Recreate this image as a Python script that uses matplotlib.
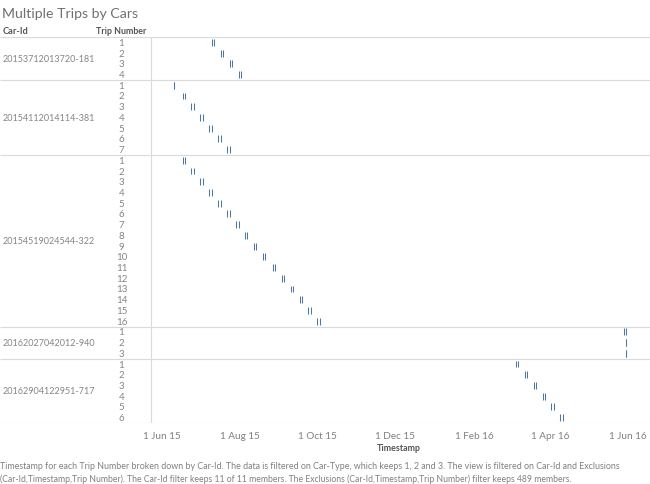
import matplotlib
matplotlib.use('Agg')
import matplotlib.pyplot as plt
import matplotlib.dates as mdates
import pandas as pd

# ---------------- data ----------------
car_ids = ["20153712013720-181", "20154112014114-381", "20154519024544-322",
           "20162027042012-940", "20162904122951-717"]

car1_start = ["2015-07-10", "2015-07-17", "2015-07-24", "2015-07-31"]
car1_end   = ["2015-07-12", "2015-07-19", "2015-07-26", "2015-08-02"]

car2_start = ["2015-06-10", "2015-06-17", "2015-06-24", "2015-07-01", "2015-07-08",
              "2015-07-15", "2015-07-22"]
car2_end   = ["2015-06-10", "2015-06-19", "2015-06-26", "2015-07-03", "2015-07-10",
              "2015-07-17", "2015-07-24"]

car3_start = ["2015-06-17", "2015-06-24", "2015-07-01", "2015-07-08", "2015-07-15",
              "2015-07-22", "2015-07-29", "2015-08-05", "2015-08-12", "2015-08-19",
              "2015-08-27", "2015-09-03", "2015-09-10", "2015-09-17", "2015-09-24",
              "2015-10-01"]
car3_end   = ["2015-06-19", "2015-06-26", "2015-07-03", "2015-07-10", "2015-07-17",
              "2015-07-24", "2015-07-31", "2015-08-07", "2015-08-14", "2015-08-21",
              "2015-08-29", "2015-09-05", "2015-09-12", "2015-09-19", "2015-09-26",
              "2015-10-03"]

car4_start = ["2016-05-29", "2016-05-31", "2016-05-31"]
car4_end   = ["2016-05-31", "2016-05-31", "2016-05-31"]

car5_start = ["2016-03-05", "2016-03-12", "2016-03-19", "2016-03-26", "2016-04-02",
              "2016-04-09"]
car5_end   = ["2016-03-07", "2016-03-14", "2016-03-21", "2016-03-28", "2016-04-04",
              "2016-04-11"]

starts = [car1_start, car2_start, car3_start, car4_start, car5_start]
ends = [car1_end, car2_end, car3_end, car4_end, car5_end]

tick_dates = ["2015-06-01", "2015-08-01", "2015-10-01", "2015-12-01",
              "2016-02-01", "2016-04-01", "2016-06-01"]
tick_labels = ["1 Jun 15", "1 Aug 15", "1 Oct 15", "1 Dec 15", "1 Feb 16",
               "1 Apr 16", "1 Jun 16"]

title = "Multiple Trips by Cars"
caption1 = ("Timestamp for each Trip Number broken down by Car-Id. The data is filtered on "
            "Car-Type, which keeps 1, 2 and 3. The view is filtered on Car-Id and Exclusions")
caption2 = ("(Car-Id,Timestamp,Trip Number). The Car-Id filter keeps 11 of 11 members. "
            "The Exclusions (Car-Id,Timestamp,Trip Number) filter keeps 489 members.")

# ---------------- layout ----------------
plt.rcParams['font.family'] = ['Lato', 'DejaVu Sans']
W, H = 650, 485
fig = plt.figure(figsize=(W / 100, H / 100), dpi=100)
fig.patch.set_facecolor('white')

def fx(px):
    return px / W

def fy(py):
    return 1 - py / H

top, bottom, left = 38, 424, 151
n_rows = sum(len(s) for s in starts)

ax_bg = fig.add_axes([0, fy(bottom), 1, (bottom - top) / H])
ax_bg.set_xlim(0, W)
ax_bg.set_ylim(n_rows, 0)
ax_bg.axis('off')

ax = fig.add_axes([fx(left), fy(bottom), (W - left) / W, (bottom - top) / H])
ax.patch.set_alpha(0)
ax.set_ylim(n_rows, 0)
x0 = pd.Timestamp("2015-06-01")
ax.set_xlim(mdates.date2num(x0 - pd.Timedelta(days=8.8)),
            mdates.date2num(x0 + pd.Timedelta(days=383.5)))
for s in ax.spines.values():
    s.set_visible(False)
ax.set_yticks([])
ax.set_xticks(mdates.date2num(pd.to_datetime(tick_dates)))
ax.set_xticklabels(tick_labels)
ax.tick_params(axis='x', length=0, pad=5.5, labelsize=7.2, labelcolor='#808080')

line_c = '#dadada'
text_c = '#858585'
mark_c = '#50789f'

# separators
bounds = [0]
for s in starts:
    bounds.append(bounds[-1] + len(s))
for b in bounds:
    ax_bg.plot([0, W], [b, b], color=line_c, lw=0.8, solid_capstyle='butt')
ax_bg.plot([left, left], [0, n_rows], color=line_c, lw=0.8)

# labels + marks
row = 0
for cid, st, en in zip(car_ids, starts, ends):
    n = len(st)
    ax_bg.text(3, row + n / 2, cid, ha='left', va='center',
               fontsize=6.5, color=text_c)
    for i in range(n):
        y = row + i + 0.5
        ax_bg.text(121.5, y, str(i + 1), ha='center', va='center',
                   fontsize=7.0, color=text_c)
        xs = mdates.date2num(pd.to_datetime([st[i], en[i]]))
        ax.vlines(xs, y - 0.32, y + 0.32, color=mark_c, lw=0.75)
    row += n

# header
h1 = fig.text(fx(3), fy(31), "Car-Id", ha='left', va='center', fontsize=7.0,
              fontweight='bold', color='#555555')
h2 = fig.text(fx(121.5), fy(31), "Trip Number", ha='center', va='center', fontsize=7.0,
              fontweight='bold', color='#555555')

t = fig.text(fx(2), fy(14), title, ha='left', va='center', fontsize=12.5, color='#707070')
xl = fig.text(fx(399), fy(449), "Timestamp", ha='center', va='center', fontsize=7.0,
              fontweight='bold', color='#555555')
c1 = fig.text(fx(0), fy(467), caption1, ha='left', va='center', fontsize=6.5,
              color='#808080')
c2 = fig.text(fx(0), fy(479), caption2, ha='left', va='center', fontsize=6.5,
              color='#808080')

# fit text widths to the reference
fig.canvas.draw()
r = fig.canvas.get_renderer()
for obj, target in [(t, 137), (c1, 618), (c2, 568), (h1, 26), (h2, 51), (xl, 44)]:
    w = obj.get_window_extent(r).width
    obj.set_fontsize(obj.get_fontsize() * target / w)

fig.savefig('out.png', dpi=100, facecolor='white')
